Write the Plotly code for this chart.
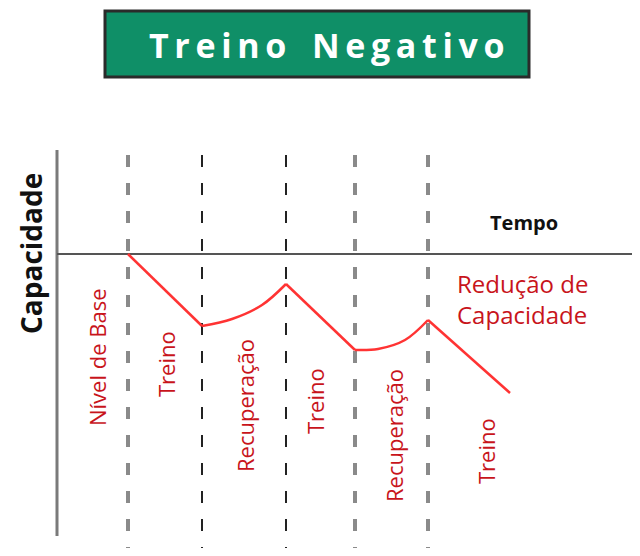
import plotly.graph_objects as go

# ---- data (pixel-like chart coordinates: x = time, y = depth below top) ----
phase_bounds = [128, 202, 286, 355, 428]
bound_styles = ["gray", "black", "black", "gray", "gray"]

# capacity curve segments (straight = training, curved = recovery)
seg_train1_x = [128, 202]
seg_train1_y = [254, 326]
seg_rec1_x = [202, 232, 262, 286]
seg_rec1_y = [326, 319, 305, 284]
seg_train2_x = [286, 355]
seg_train2_y = [284, 350]
seg_rec2_x = [355, 378, 405, 428]
seg_rec2_y = [350, 349, 340, 320]
seg_train3_x = [428, 510]
seg_train3_y = [320, 393]

phase_labels = ["Nível de Base", "Treino", "Recuperação", "Treino", "Recuperação", "Treino"]
phase_label_x = [97, 166, 245, 315, 394, 486]
phase_label_y = [357, 364, 406, 401, 436, 451]

baseline_y = 254
title_text = "Treino Negativo"

fig = go.Figure()

# vertical axis
fig.add_trace(go.Scatter(x=[57, 57], y=[150, 536], mode="lines",
                         line=dict(color="#7a7a7a", width=3), hoverinfo="skip"))
# time axis (baseline)
fig.add_trace(go.Scatter(x=[57, 648], y=[baseline_y, baseline_y], mode="lines",
                         line=dict(color="#555555", width=2), hoverinfo="skip"))

# phase boundaries
for bx, st in zip(phase_bounds, bound_styles):
    if st == "gray":
        ln = dict(color="#8a8a8a", width=4, dash="12px,16px")
    else:
        ln = dict(color="#222222", width=2, dash="12px,16px")
    fig.add_trace(go.Scatter(x=[bx, bx], y=[155, 548], mode="lines", line=ln, hoverinfo="skip"))

red = "#ff3333"
for sx, sy, shape in [(seg_train1_x, seg_train1_y, "linear"),
                      (seg_rec1_x, seg_rec1_y, "spline"),
                      (seg_train2_x, seg_train2_y, "linear"),
                      (seg_rec2_x, seg_rec2_y, "spline"),
                      (seg_train3_x, seg_train3_y, "linear")]:
    fig.add_trace(go.Scatter(x=sx, y=sy, mode="lines",
                             line=dict(color=red, width=2.5, shape=shape), hoverinfo="skip"))

lab_color = "#c8141b"
for t, lx, ly in zip(phase_labels, phase_label_x, phase_label_y):
    fig.add_annotation(x=lx, y=ly, text=t, textangle=-90, showarrow=False,
                       font=dict(family="Open Sans", size=22, color=lab_color),
                       xanchor="center", yanchor="middle")

fig.add_annotation(x=455, y=299, text="Redução de<br>Capacidade", showarrow=False, align="left",
                   xanchor="left", yanchor="middle",
                   font=dict(family="Open Sans", size=24, color=lab_color))
fig.add_annotation(x=524, y=222, text="<b>Tempo</b>", showarrow=False,
                   xanchor="center", yanchor="middle",
                   font=dict(family="Open Sans", size=20, color="#111111"))
fig.add_annotation(x=31, y=254, text="<b>Capacidade</b>", textangle=-90, showarrow=False,
                   xanchor="center", yanchor="middle",
                   font=dict(family="Open Sans", size=28, color="#111111"))

# title box
fig.add_shape(type="rect", x0=105, x1=529, y0=11, y1=77,
              fillcolor="#0f8f67", line=dict(color="#2a2a2a", width=3), layer="below")
spaced = "\u2009".join(list(title_text)).replace("\u2009 \u2009", "\u2009\u2009 \u2009")
fig.add_annotation(x=327, y=45, text="<b>" + spaced + "</b>", showarrow=False,
                   xanchor="center", yanchor="middle",
                   font=dict(family="Open Sans", size=34, color="white"))

# page body adds an 8px offset; shift the axis ranges to compensate
fig.update_layout(width=640, height=556, margin=dict(l=0, r=0, t=0, b=0),
                  paper_bgcolor="white", plot_bgcolor="white", showlegend=False,
                  xaxis=dict(range=[8, 648], visible=False, fixedrange=True),
                  yaxis=dict(range=[564, 8], visible=False, fixedrange=True))

fig.write_html("out.html")
